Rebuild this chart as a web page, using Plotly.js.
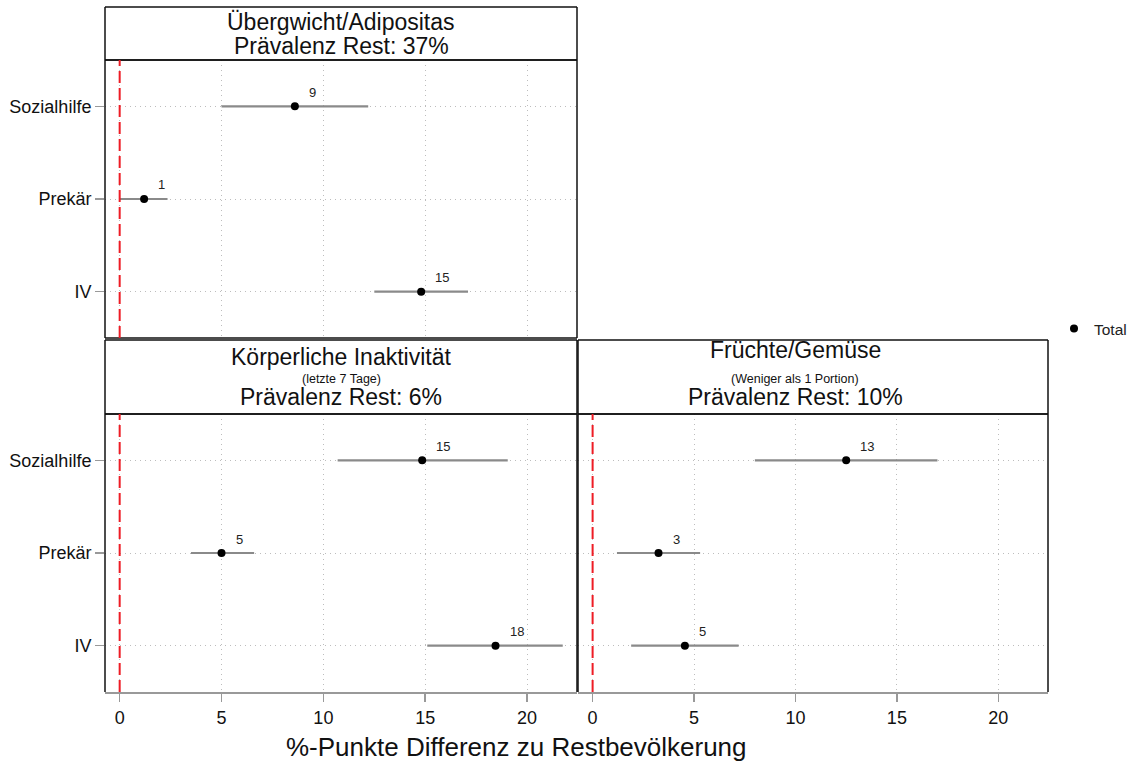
<!DOCTYPE html>
<html><head><meta charset="utf-8">
<script src="https://cdn.plot.ly/plotly-3.0.1.min.js"></script>
<style>html,body{margin:0;padding:0;background:#fff}</style>
</head><body>
<div id="chart" style="width:1135px;height:765px"></div>
<script>
const categories = ['Sozialhilfe', 'Prekär', 'IV'];

const uebergewichtEst = [8.6, 1.2, 14.8];
const uebergewichtLo  = [5.0, 0.0, 12.5];
const uebergewichtHi  = [12.2, 2.35, 17.1];
const uebergewichtLbl = ['9', '1', '15'];

const inaktivEst = [14.85, 5.0, 18.45];
const inaktivLo  = [10.7, 3.5, 15.1];
const inaktivHi  = [19.05, 6.6, 21.75];
const inaktivLbl = ['15', '5', '18'];

const fruechteEst = [12.5, 3.25, 4.55];
const fruechteLo  = [8.0, 1.2, 1.9];
const fruechteHi  = [17.0, 5.3, 7.2];
const fruechteLbl = ['13', '3', '5'];

const xTicks = [0, 5, 10, 15, 20];
const seriesName = 'Total';
const axisTitle = '%-Punkte Differenz zu Restbevölkerung';

const W = 1135, H = 765;
const px = v => v / W;
const py = v => 1 - v / H;
const FONT = 'Arial, "Liberation Sans", sans-serif';

function trace(est, lo, hi, xa, ya, showleg) {
  return {
    type: 'scatter', mode: 'markers', name: seriesName, showlegend: showleg,
    x: est, y: categories, xaxis: xa, yaxis: ya,
    marker: {color: '#000', size: 8},
    error_x: {type: 'data', symmetric: false,
      array: hi.map((h, i) => h - est[i]),
      arrayminus: lo.map((l, i) => est[i] - l),
      color: '#8a8a8a', thickness: 2.2, width: 0}
  };
}

const data = [
  trace(uebergewichtEst, uebergewichtLo, uebergewichtHi, 'x', 'y', true),
  trace(inaktivEst, inaktivLo, inaktivHi, 'x2', 'y2', false),
  trace(fruechteEst, fruechteLo, fruechteHi, 'x3', 'y3', false)
];

const xr = [-0.72, 22.45];
function xaxis(domain, anchor, showLabels) {
  return {domain: domain, anchor: anchor, range: xr, tickvals: xTicks,
    showticklabels: showLabels, ticks: showLabels ? 'outside' : '', ticklen: 8,
    tickcolor: '#999', tickwidth: 1.5,
    showgrid: true, gridcolor: '#bdbdbd', griddash: '1px,4px', gridwidth: 1,
    zeroline: false, showline: showLabels, linecolor: '#999', linewidth: 2,
    tickfont: {family: FONT, size: 18, color: '#111'}};
}
function yaxis(domain, anchor, showLabels) {
  return {domain: domain, anchor: anchor, type: 'category',
    categoryorder: 'array', categoryarray: categories.slice().reverse(),
    range: [-0.5, 2.5], showticklabels: showLabels,
    ticks: showLabels ? 'outside' : '', ticklen: 9, tickcolor: '#999', tickwidth: 1.5,
    showgrid: true, gridcolor: '#bdbdbd', griddash: '1px,4px', gridwidth: 1,
    zeroline: false, showline: false,
    tickfont: {family: FONT, size: 18, color: '#111'}};
}

const p1x = [px(105), px(577)], p1y = [py(338), py(60)];
const p2x = [px(105), px(577)], p2y = [py(692), py(414)];
const p3x = [px(578), px(1048)], p3y = [py(692), py(414)];

const shapes = [];
function box(x0, x1, y0, y1, noBottom) {
  const s = {type: 'line', xref: 'paper', yref: 'paper', line: {color: '#111', width: 1.5}};
  shapes.push(Object.assign({}, s, {x0: px(x0), x1: px(x1), y0: py(y0), y1: py(y0)}));
  shapes.push(Object.assign({}, s, {x0: px(x0), x1: px(x0), y0: py(y0), y1: py(y1)}));
  shapes.push(Object.assign({}, s, {x0: px(x1), x1: px(x1), y0: py(y0), y1: py(y1)}));
  if (!noBottom) shapes.push(Object.assign({}, s, {x0: px(x0), x1: px(x1), y0: py(y1), y1: py(y1)}));
}
// strips
box(105, 577, 7, 60);
box(105, 577, 340, 414);
box(578, 1048, 340, 414);
// panels
box(105, 577, 60, 338);
box(105, 577, 414, 692, true);
box(578, 1048, 414, 692, true);
// red reference lines
[['x', 'y'], ['x2', 'y2'], ['x3', 'y3']].forEach(([xa, ya]) => {
  shapes.push({type: 'line', xref: xa, yref: ya + ' domain', x0: 0, x1: 0, y0: 0, y1: 1,
    line: {color: '#ee1c25', width: 2, dash: '12px,5px'}});
});

const annotations = [];
function pointLabels(est, lbl, xa, ya) {
  est.forEach((v, i) => annotations.push({x: v, y: categories[i], xref: xa, yref: ya,
    text: lbl[i], showarrow: false, xanchor: 'left', yanchor: 'middle',
    xshift: 12, yshift: 14, font: {family: FONT, size: 13, color: '#222'}}));
}
pointLabels(uebergewichtEst, uebergewichtLbl, 'x', 'y');
pointLabels(inaktivEst, inaktivLbl, 'x2', 'y2');
pointLabels(fruechteEst, fruechteLbl, 'x3', 'y3');

function ptext(text, x, y, size) {
  annotations.push({xref: 'paper', yref: 'paper', x: px(x), y: py(y), text: text,
    showarrow: false, xanchor: 'center', yanchor: 'middle',
    font: {family: FONT, size: size, color: '#111'}});
}
ptext('Übergwicht/Adipositas', 341, 22, 23);
ptext('Prävalenz Rest: 37%', 341, 46, 23);
ptext('Körperliche Inaktivität', 341, 357, 23);
ptext('(letzte 7 Tage)', 341, 379, 12.5);
ptext('Prävalenz Rest: 6%', 341, 397, 23);
ptext('Früchte/Gemüse', 795, 350, 23);
ptext('(Weniger als 1 Portion)', 795, 379, 12.5);
ptext('Prävalenz Rest: 10%', 795, 397, 23);
ptext(axisTitle, 516, 747, 26);

const layout = {
  width: W, height: H,
  margin: {l: 0, r: 0, t: 0, b: 0},
  paper_bgcolor: '#fff', plot_bgcolor: '#fff',
  font: {family: FONT, color: '#222'},
  showlegend: true,
  legend: {x: px(1054), y: py(329), xanchor: 'left', yanchor: 'middle',
    font: {family: FONT, size: 15.5, color: '#222'}, bgcolor: 'rgba(0,0,0,0)'},
  xaxis: xaxis(p1x, 'y', false),
  yaxis: yaxis(p1y, 'x', true),
  xaxis2: xaxis(p2x, 'y2', true),
  yaxis2: yaxis(p2y, 'x2', true),
  xaxis3: xaxis(p3x, 'y3', true),
  yaxis3: yaxis(p3y, 'x3', false),
  shapes: shapes,
  annotations: annotations
};

Plotly.newPlot('chart', data, layout, {displayModeBar: false, staticPlot: true});
</script>
</body></html>
